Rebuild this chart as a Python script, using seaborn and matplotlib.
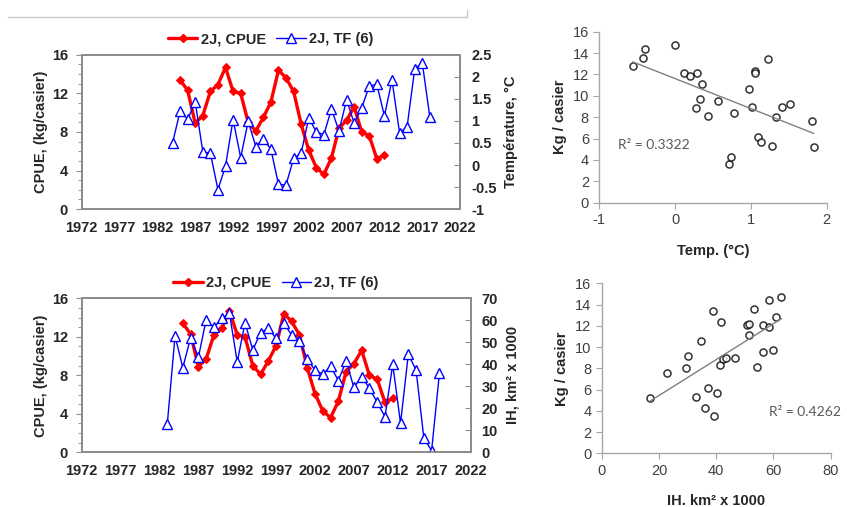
import numpy as np
import pandas as pd
import seaborn as sns
import matplotlib.pyplot as plt
from matplotlib.lines import Line2D
from matplotlib.ticker import MultipleLocator

# CPUE 2J (kg/casier) par année
cpue_years = list(range(1985, 2013))
cpue = [13.4, 12.3, 8.9, 9.7, 12.2, 12.9, 14.7, 12.2, 12.0, 9.0,
        8.1, 9.5, 11.1, 14.4, 13.6, 12.2, 8.8, 6.1, 4.3, 3.6,
        5.3, 8.4, 9.2, 10.6, 8.0, 7.6, 5.2, 5.6]

# température au fond, TF (6)
temp_years = list(range(1984, 2019))
temp = [0.50, 1.22, 1.04, 1.43, 0.30, 0.27, -0.56, -0.02, 1.03, 0.17,
        0.99, 0.42, 0.58, 0.36, -0.44, -0.45, 0.15, 0.27, 1.07, 0.75,
        0.69, 1.27, 0.77, 1.48, 0.95, 1.30, 1.79, 1.83, 1.11, 1.93,
        0.73, 0.87, 2.17, 2.32, 1.09]

# indice IH, km2 x 1000
ih_years = list(range(1983, 2019))
ih = [12.7, 52.9, 38.5, 52.1, 43.2, 60.2, 56.8, 60.9, 63.2, 41.1,
      58.9, 46.5, 54.4, 56.4, 51.8, 58.6, 53.3, 50.6, 42.3, 37.4,
      35.5, 39.2, 32.6, 41.5, 29.5, 34.4, 29.1, 22.7, 16.2, 40.0,
      13.2, 44.5, 37.4, 6.4, 0.8, 35.9]

# nuage CPUE vs température
sc_temp_x = [-0.56, -0.43, -0.40, 0.00, 0.12, 0.20, 0.29, 0.35, 0.33, 0.27,
             0.43, 0.56, 0.78, 0.71, 0.74, 0.97, 1.01, 1.06, 1.06, 1.09,
             1.13, 1.23, 1.28, 1.33, 1.41, 1.52, 1.80, 1.83]
sc_temp_y = [12.8, 13.55, 14.4, 14.75, 12.1, 11.9, 12.1, 11.1, 9.7, 8.85,
             8.15, 9.5, 8.35, 3.6, 4.3, 10.6, 8.95, 12.3, 12.1, 6.15,
             5.65, 13.4, 5.3, 8.0, 9.0, 9.2, 7.65, 5.2]

# nuage CPUE vs IH
sc_ih_x = [16.9, 22.7, 29.4, 30.2, 33.0, 34.8, 36.0, 37.2, 38.9, 39.2,
           40.3, 41.5, 41.4, 42.3, 43.4, 46.6, 50.7, 51.5, 51.6, 53.3,
           54.3, 56.3, 56.5, 58.4, 58.6, 59.9, 61.0, 62.8]
sc_ih_y = [5.25, 7.6, 8.0, 9.2, 5.3, 10.6, 4.3, 6.1, 13.4, 3.55,
           5.65, 12.35, 8.35, 8.85, 9.0, 9.0, 12.1, 12.2, 11.1, 13.55,
           8.15, 9.55, 12.1, 14.4, 11.9, 9.7, 12.8, 14.7]

sns.set_style("white")
plt.rcParams["font.family"] = ["Liberation Sans", "DejaVu Sans"]
plt.rcParams["axes.unicode_minus"] = False

SPINE = "#8c8c8c"
BOLD = dict(fontsize=10.5, fontweight="bold")


def style_box(ax):
    for s in ax.spines.values():
        s.set_color(SPINE)
        s.set_linewidth(1.3)


def time_panel(fig, rect, right_vals, right_years, right_lim, right_step, right_label, fmt):
    ax = fig.add_axes(rect)
    df_c = pd.DataFrame({"year": cpue_years, "cpue": cpue})
    sns.lineplot(data=df_c, x="year", y="cpue", ax=ax, color="red", lw=2.4,
                 marker="D", markersize=4.5, markeredgecolor="red")
    ax.set_xlim(1972, 2022)
    ax.set_ylim(0, 16)
    ax.set_xticks(range(1972, 2023, 5))
    ax.set_yticks([0, 4, 8, 12, 16])
    ax.yaxis.set_minor_locator(MultipleLocator(1))
    ax.tick_params(axis="x", direction="inout", length=7, color=SPINE, pad=5)
    ax.tick_params(axis="y", which="major", direction="out", length=4, color=SPINE, pad=6)
    ax.tick_params(axis="y", which="minor", direction="out", length=3, color=SPINE, left=True)
    for t in ax.get_xticklabels() + ax.get_yticklabels():
        t.set_fontweight("bold")
        t.set_fontsize(10.5)
    ax.set_xlabel("")
    ax.set_ylabel("CPUE, (kg/casier)", labelpad=3, **BOLD)
    style_box(ax)

    ax2 = ax.twinx()
    df_r = pd.DataFrame({"year": right_years, "val": right_vals})
    sns.lineplot(data=df_r, x="year", y="val", ax=ax2, color="blue", lw=1.0,
                 marker="^", markersize=7, markerfacecolor="white",
                 markeredgecolor="blue", markeredgewidth=1.0)
    ax2.set_ylim(*right_lim)
    ax2.set_yticks(np.arange(right_lim[0], right_lim[1] + 0.001, right_step))
    ax2.set_yticklabels([fmt(v) for v in ax2.get_yticks()], fontweight="bold", fontsize=10.5)
    ax2.tick_params(axis="y", direction="in", length=4, color=SPINE, pad=8)
    ax2.set_ylabel(right_label, labelpad=5, **BOLD)
    style_box(ax2)

    handles = [Line2D([], [], color="red", lw=2.4, marker="D", markersize=4.5),
               Line2D([], [], color="blue", lw=1.0, marker="^", markersize=7,
                      markerfacecolor="white", markeredgecolor="blue")]
    ax.legend(handles, ["2J, CPUE", "2J, TF (6)"], loc="lower center",
              bbox_to_anchor=(0.5, 1.0), ncol=2, frameon=False,
              prop=dict(weight="bold", size=10.5), handlelength=2.0,
              columnspacing=0.7, handletextpad=0.25, borderaxespad=0.2)
    return ax


def scatter_panel(fig, rect, xs, ys, xlim, xticks, xlabel, r2, r2_pos):
    ax = fig.add_axes(rect)
    df = pd.DataFrame({"x": xs, "y": ys})
    sns.regplot(data=df, x="x", y="y", ax=ax, ci=None,
                scatter_kws=dict(s=26, facecolor="white", edgecolor="black", linewidths=1.1),
                line_kws=dict(color="#808080", lw=1.0))
    ax.set_xlim(*xlim)
    ax.set_ylim(0, 16)
    ax.set_xticks(xticks)
    ax.set_yticks(range(0, 17, 2))
    sns.despine(ax=ax)
    for s in ["left", "bottom"]:
        ax.spines[s].set_color("#a6a6a6")
        ax.spines[s].set_linewidth(1.0)
    ax.tick_params(axis="both", direction="out", length=4, color="#a6a6a6",
                   labelsize=10.5, labelcolor="#404040", left=True, bottom=True)
    ax.set_xlabel(xlabel, labelpad=12, **BOLD)
    ax.set_ylabel("Kg / casier", labelpad=4, **BOLD)
    ax.text(r2_pos[0], r2_pos[1], r2, fontsize=10, color="#595959",
            family=["Lato", "DejaVu Sans"], va="center")
    return ax


fig = plt.figure(figsize=(8.47, 5.07), dpi=100)

time_panel(fig, [0.0965, 0.5875, 0.4467, 0.3045], temp, temp_years,
           (-1, 2.5), 0.5, "Température, °C", lambda v: f"{v:g}")
time_panel(fig, [0.0965, 0.1078, 0.459, 0.3037], ih, ih_years,
           (0, 70), 10, "IH, km² x 1000", lambda v: f"{v:.0f}")

scatter_panel(fig, [0.7076, 0.6002, 0.2685, 0.3373], sc_temp_x, sc_temp_y,
              (-1, 2), [-1, 0, 1, 2], "Temp. (°C)", "R² = 0.3322", (-0.75, 5.4))
scatter_panel(fig, [0.7104, 0.1059, 0.2704, 0.3353], sc_ih_x, sc_ih_y,
              (0, 80), [0, 20, 40, 60, 80], "IH. km² x 1000", "R² = 0.4262", (58.3, 3.9))

# trait gris en haut de la figure
fig.add_artist(Line2D([8 / 847, 467 / 847], [1 - 17 / 507, 1 - 17 / 507],
                      color="#c8c8c8", lw=1.0))
fig.add_artist(Line2D([467 / 847, 467 / 847], [1 - 17 / 507, 1 - 10 / 507],
                      color="#c8c8c8", lw=1.0))

fig.savefig("out.png", dpi=100)
